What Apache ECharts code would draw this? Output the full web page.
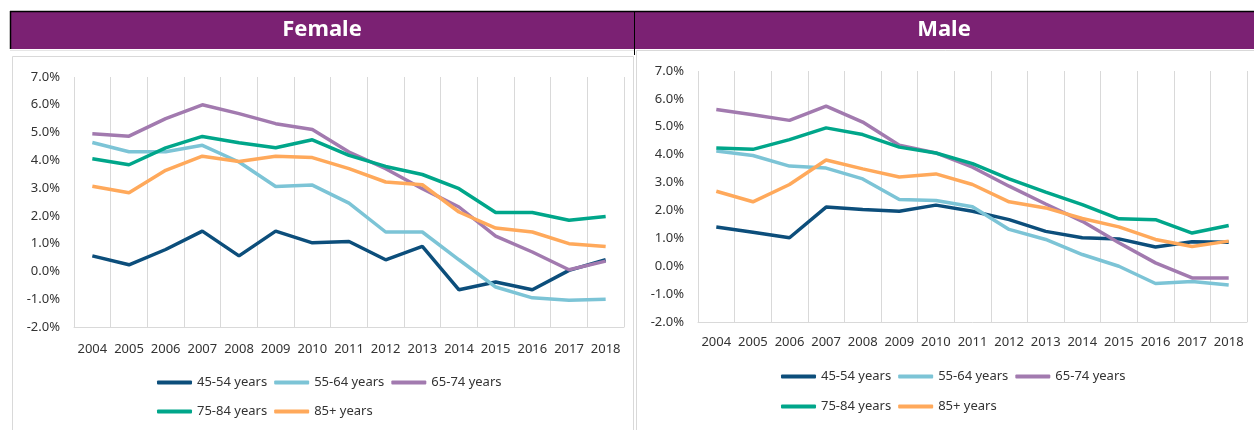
<!DOCTYPE html>
<html>
<head>
<meta charset="utf-8">
<script src="https://cdn.jsdelivr.net/npm/echarts@6/dist/echarts.min.js"></script>
<style>
  html, body { margin: 0; padding: 0; background: #fff; }
  #chart { width: 1254px; height: 430px; }
</style>
</head>
<body>
<div id="chart"></div>
<script>
// years on the x axis
var years = ['2004','2005','2006','2007','2008','2009','2010','2011','2012','2013','2014','2015','2016','2017','2018'];
var seriesNames = ['45-54 years','55-64 years','65-74 years','75-84 years','85+ years'];
var yTicks = [-2, -1, 0, 1, 2, 3, 4, 5, 6, 7];

// Female, % change
var female45 = [0.56, 0.24, 0.79, 1.45, 0.56, 1.45, 1.03, 1.08, 0.42, 0.90, -0.66, -0.38, -0.66, 0.04, 0.42];
var female55 = [4.64, 4.31, 4.31, 4.54, 3.94, 3.06, 3.11, 2.46, 1.42, 1.42, 0.42, -0.56, -0.95, -1.04, -1.00];
var female65 = [4.96, 4.87, 5.50, 6.00, 5.68, 5.32, 5.11, 4.30, 3.70, 2.98, 2.32, 1.27, 0.70, 0.06, 0.37];
var female75 = [4.06, 3.84, 4.45, 4.86, 4.63, 4.45, 4.74, 4.18, 3.78, 3.49, 2.98, 2.12, 2.12, 1.84, 1.98];
var female85 = [3.07, 2.83, 3.64, 4.15, 3.96, 4.15, 4.10, 3.70, 3.22, 3.12, 2.14, 1.56, 1.42, 1.00, 0.90];

// Male, % change
var male45 = [1.41, 1.22, 1.02, 2.12, 2.03, 1.97, 2.19, 1.97, 1.67, 1.25, 1.02, 0.98, 0.69, 0.88, 0.86];
var male55 = [4.13, 3.97, 3.59, 3.52, 3.13, 2.39, 2.36, 2.13, 1.32, 0.96, 0.42, 0.00, -0.62, -0.55, -0.67];
var male65 = [5.62, 5.43, 5.23, 5.74, 5.17, 4.34, 4.06, 3.55, 2.87, 2.23, 1.61, 0.84, 0.12, -0.42, -0.42];
var male75 = [4.24, 4.19, 4.54, 4.96, 4.72, 4.27, 4.06, 3.68, 3.13, 2.66, 2.21, 1.70, 1.67, 1.19, 1.46];
var male85 = [2.69, 2.31, 2.93, 3.81, 3.49, 3.20, 3.31, 2.93, 2.31, 2.09, 1.71, 1.41, 0.96, 0.71, 0.90];

var colors = ['#0c4e7b', '#7cc4d6', '#a27aaf', '#00a68a', '#ffa95b'];
var purple = '#7b2173';
var gridGrey = '#d9d9d9';
var textColor = '#333333';
var font = 'Noto Sans';

var femaleData = [female45, female55, female65, female75, female85];
var maleData = [male45, male55, male65, male75, male85];

var myChart = echarts.init(document.getElementById('chart'), null, { renderer: 'canvas' });

function pct(v) {
    return (v).toFixed(1) + '%';
}

// two x axes per grid: one carries labels + vertical grid, one is only the line at 0
function xAxes(gridIndex, margin) {
    return [{
        type: 'category',
        gridIndex: gridIndex,
        data: years,
        position: 'bottom',
        boundaryGap: true,
        axisLine: { show: false },
        axisTick: { show: false },
        axisLabel: { interval: 0, margin: margin, color: textColor, fontFamily: font, fontSize: 13 },
        splitLine: { show: true, interval: 0, lineStyle: { color: gridGrey, width: 1 } }
    }, {
        type: 'category',
        gridIndex: gridIndex,
        data: years,
        position: 'bottom',
        axisLine: { show: true, onZero: true, lineStyle: { color: gridGrey, width: 1 } },
        axisTick: { show: false },
        axisLabel: { show: false },
        splitLine: { show: false }
    }];
}

function yAxis(gridIndex) {
    return {
        type: 'value',
        gridIndex: gridIndex,
        min: yTicks[0],
        max: yTicks[yTicks.length - 1],
        interval: 1,
        axisLine: { show: false },
        axisTick: { show: false },
        splitLine: { show: false },
        axisLabel: { formatter: pct, margin: 14, color: textColor, fontFamily: font, fontSize: 13 }
    };
}

var series = [];
[femaleData, maleData].forEach(function (group, g) {
    group.forEach(function (vals, i) {
        series.push({
            name: seriesNames[i],
            type: 'line',
            xAxisIndex: g * 2,
            yAxisIndex: g,
            data: vals,
            showSymbol: false,
            symbol: 'none',
            silent: true,
            lineStyle: { color: colors[i], width: 3.5 },
            itemStyle: { color: colors[i] }
        });
    });
});

function legend(left, top, names) {
    return {
        left: left,
        top: top,
        padding: 0,
        orient: 'horizontal',
        icon: 'roundRect',
        itemWidth: 35,
        itemHeight: 4,
        itemGap: 7,
        selectedMode: false,
        data: names,
        textStyle: { color: textColor, fontFamily: font, fontSize: 13 }
    };
}

var option = {
    animation: false,
    backgroundColor: '#ffffff',
    color: colors,
    grid: [
        { left: 74, width: 550, top: 77, height: 250, outerBoundsMode: 'none' },
        { left: 698, width: 549, top: 71, height: 251, outerBoundsMode: 'none' }
    ],
    xAxis: xAxes(0, 16).concat(xAxes(1, 14)),
    yAxis: [yAxis(0), yAxis(1)],
    legend: [
        legend(157, 376, seriesNames.slice(0, 3)),
        legend(157, 405, seriesNames.slice(3)),
        legend(781, 370, seriesNames.slice(0, 3)),
        legend(781, 400, seriesNames.slice(3))
    ],
    graphic: [
        // chart boxes
        { type: 'rect', z: -10, shape: { x: 12.5, y: 56.5, width: 621, height: 400 }, style: { fill: '#fff', stroke: gridGrey, lineWidth: 1 } },
        { type: 'rect', z: -10, shape: { x: 636.5, y: 50.5, width: 630, height: 400 }, style: { fill: '#fff', stroke: gridGrey, lineWidth: 1 } },
        // header bars
        { type: 'rect', shape: { x: 10, y: 11, width: 624, height: 38 }, style: { fill: purple } },
        { type: 'rect', shape: { x: 634, y: 11, width: 620, height: 38 }, style: { fill: purple } },
        { type: 'line', shape: { x1: 10, y1: 11.5, x2: 1254, y2: 11.5 }, style: { stroke: '#000', lineWidth: 1.5 } },
        { type: 'line', shape: { x1: 10.5, y1: 11, x2: 10.5, y2: 49 }, style: { stroke: '#000', lineWidth: 1.5 } },
        { type: 'line', shape: { x1: 634.5, y1: 11, x2: 634.5, y2: 55 }, style: { stroke: '#000', lineWidth: 1 } },
        { type: 'line', shape: { x1: 10, y1: 50.5, x2: 634, y2: 50.5 }, style: { stroke: '#e6e6e6', lineWidth: 1 } },
        { type: 'text', x: 322, y: 30, style: { text: 'Female', fill: '#fff', font: 'bold 22px "Noto Sans"', textAlign: 'center', textVerticalAlign: 'middle' } },
        { type: 'text', x: 944, y: 30, style: { text: 'Male', fill: '#fff', font: 'bold 22px "Noto Sans"', textAlign: 'center', textVerticalAlign: 'middle' } }
    ],
    series: series
};

myChart.setOption(option);
</script>
</body>
</html>
